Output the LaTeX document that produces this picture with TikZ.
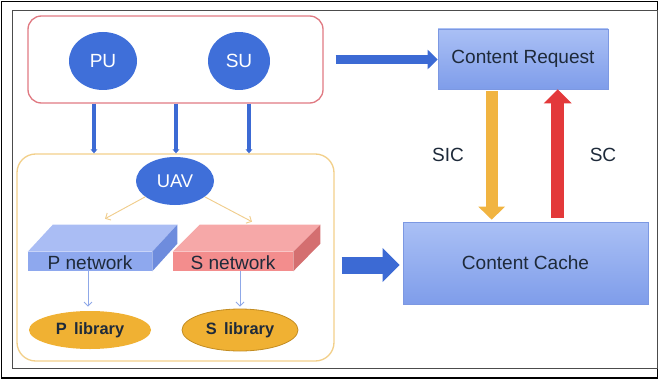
\documentclass[tikz,border=0pt]{standalone}
\usepackage{fontspec}
\setmainfont{Liberation Sans}
\usetikzlibrary{arrows.meta,calc,fit,shapes.geometric}
\definecolor{txtc}{HTML}{1E2A3A}
\definecolor{bluec}{HTML}{3F6FD9}
\definecolor{arrblue}{HTML}{3C6AD4}
\definecolor{redbox}{HTML}{E07A82}
\definecolor{yelbox}{HTML}{F2CF8A}
\definecolor{ctop}{HTML}{AAC0F5}
\definecolor{cbot}{HTML}{7F9DEA}
\definecolor{cedge}{HTML}{7C98E2}
\definecolor{pfront}{HTML}{8EA8EE}
\definecolor{ptop}{HTML}{AABDF4}
\definecolor{pside}{HTML}{6E8CDD}
\definecolor{sfront}{HTML}{F38D8D}
\definecolor{stop}{HTML}{F6A8A8}
\definecolor{sside}{HTML}{D46F70}
\definecolor{libc}{HTML}{F0B133}
\definecolor{libedge}{HTML}{C28C22}
\definecolor{sicc}{HTML}{F1B441}
\definecolor{scc}{HTML}{E3393A}
\definecolor{thinyel}{HTML}{F0CD8C}
\definecolor{thinblue}{HTML}{8FA8E8}
\begin{document}
\begin{tikzpicture}[x=0.75pt,y=-0.75pt,
  big/.style={font=\fontsize{14.3}{17}\selectfont},
  blueell/.style={ellipse, fill=bluec, text=white, inner sep=0, big},
  cbox/.style={rectangle, inner sep=0, draw=cedge, line width=0.5pt, top color=ctop, bottom color=cbot, text=txtc, big},
  front/.style={rectangle, inner sep=0, text=txtc, big},
  lib/.style={ellipse, fill=libc, inner sep=0, text=txtc, font=\fontsize{12.3}{15}\selectfont\bfseries},
  downarr/.style={draw=arrblue, line width=2.3pt, -{Triangle[length=3pt,width=5pt]}},
  thinyarr/.style={draw=thinyel, line width=0.7pt, -{Straight Barb[length=3pt,width=6pt]}},
  thinbarr/.style={draw=thinblue, line width=0.7pt, -{Straight Barb[length=3pt,width=6pt]}},
  lbl/.style={text=txtc, big}
]
\useasboundingbox (0,0) rectangle (659,381);
% frames
\draw[black, line width=1.1pt] (1.5,1.5) rectangle (657.5,378);
\draw[black!70, line width=0.7pt] (12,10) rectangle (657.5,368);

% user box
\node[fit={(28,16) (323,103)}, inner sep=0, draw=redbox, line width=1pt, rounded corners=10pt] (ub) {};
\node[blueell, minimum width=51pt, minimum height=43.5pt] (PU) at (103,61) {PU};
\node[blueell, minimum width=46.5pt, minimum height=43.5pt] (SU) at (239,61) {SU};

% UAV box
\node[fit={(17,154) (334,361)}, inner sep=0, draw=yelbox, line width=1pt, rounded corners=14pt] (yb) {};
\node[blueell, minimum width=58.5pt, minimum height=36pt, font=\fontsize{13.8}{16}\selectfont] (UAV) at (175,181) {UAV};

% P network slab
\node[front, fit={(28,252) (152,271)}] (Pnet) {};
\fill[ptop] (Pnet.north west) -- ++(25,-27) -- ($(Pnet.north east)+(25,-27)$) -- (Pnet.north east) -- cycle;
\fill[pside] (Pnet.north east) -- ++(25,-27) -- ++(0,19) -- (Pnet.south east) -- cycle;
\fill[pfront] (Pnet.north west) rectangle (Pnet.south east);
\node[lbl] at ($(Pnet.center)+(0,1)$) {P network};

% S network slab
\node[front, fit={(173,252) (293,271)}] (Snet) {};
\fill[stop] (Snet.north west) -- ++(27,-27) -- ($(Snet.north east)+(27,-27)$) -- (Snet.north east) -- cycle;
\fill[sside] (Snet.north east) -- ++(27,-27) -- ++(0,19) -- (Snet.south east) -- cycle;
\fill[sfront] (Snet.north west) rectangle (Snet.south east);
\node[lbl] at ($(Snet.center)+(0,1)$) {S network};

% libraries
\node[lib, minimum width=91.5pt, minimum height=28.5pt] (Plib) at (90,330) {P\,\ library};
\node[lib, draw=libedge, line width=0.6pt, minimum width=87pt, minimum height=31.5pt] (Slib) at (240,330) {S\,\ library};

% content boxes
\node[cbox, minimum width=127.5pt, minimum height=45pt] (creq) at (523,59) {Content Request};
\node[cbox, minimum width=183.75pt, minimum height=61.5pt] (ccache) at (525.5,263) {Content Cache};

% labels
\node[lbl] (sic) at (448,155) {SIC};
\node[lbl] (sc) at (603,155) {SC};

% arrows: user box -> UAV box
\foreach \dx in {-81.5,0.5,73.5}
  \draw[downarr] ($(ub.south)+(\dx,0)$) -- ($(yb.north)+(\dx,0)$);

% UAV -> networks
\draw[thinyarr] (UAV.208) -- ($(Pnet.north)+(15,-33)$);
\draw[thinyarr] (UAV.332) -- ($(Snet.north)+(19,-30)$);

% networks -> libraries
\draw[thinbarr] ($(Pnet.south)+(-2,0)$) -- ($(Plib.north)+(-2,-4)$);
\draw[thinbarr] (Slib.north |- Snet.south) -- ($(Slib.north)+(0,-2)$);

% user box -> content request
\draw[arrblue, line width=6.75pt, -{Triangle[length=7.5pt,width=14.25pt]}] ($(ub.east)+(12,0)$) -- (ub.east -| creq.west);

% UAV box -> content cache
\coordinate (ca) at ($(yb.east |- ccache.west)+(7,2)$);
\coordinate (cb) at ($(ccache.west)+(-3,2)$);
\draw[arrblue, line width=12.75pt, -{Triangle[length=12.75pt,width=24.75pt]}] (ca) -- (cb);

% SIC arrow
\coordinate (sicT) at ($(creq.south west)+(54,2)$);
\coordinate (sicB0) at (sicT |- ccache.north);
\coordinate (sicB) at ($(sicB0)+(0,-2)$);
\draw[sicc, line width=9pt, -{Triangle[length=9.75pt,width=19.5pt]}] (sicT) -- (sicB);

% SC arrow
\coordinate (scT) at ($(creq.south west)+(120,0)$);
\coordinate (scB0) at (scT |- ccache.north);
\coordinate (scB) at ($(scB0)+(0,-4)$);
\draw[scc, line width=9.75pt, -{Triangle[length=10.5pt,width=20.25pt]}] (scB) -- (scT);
\end{tikzpicture}
\end{document}
